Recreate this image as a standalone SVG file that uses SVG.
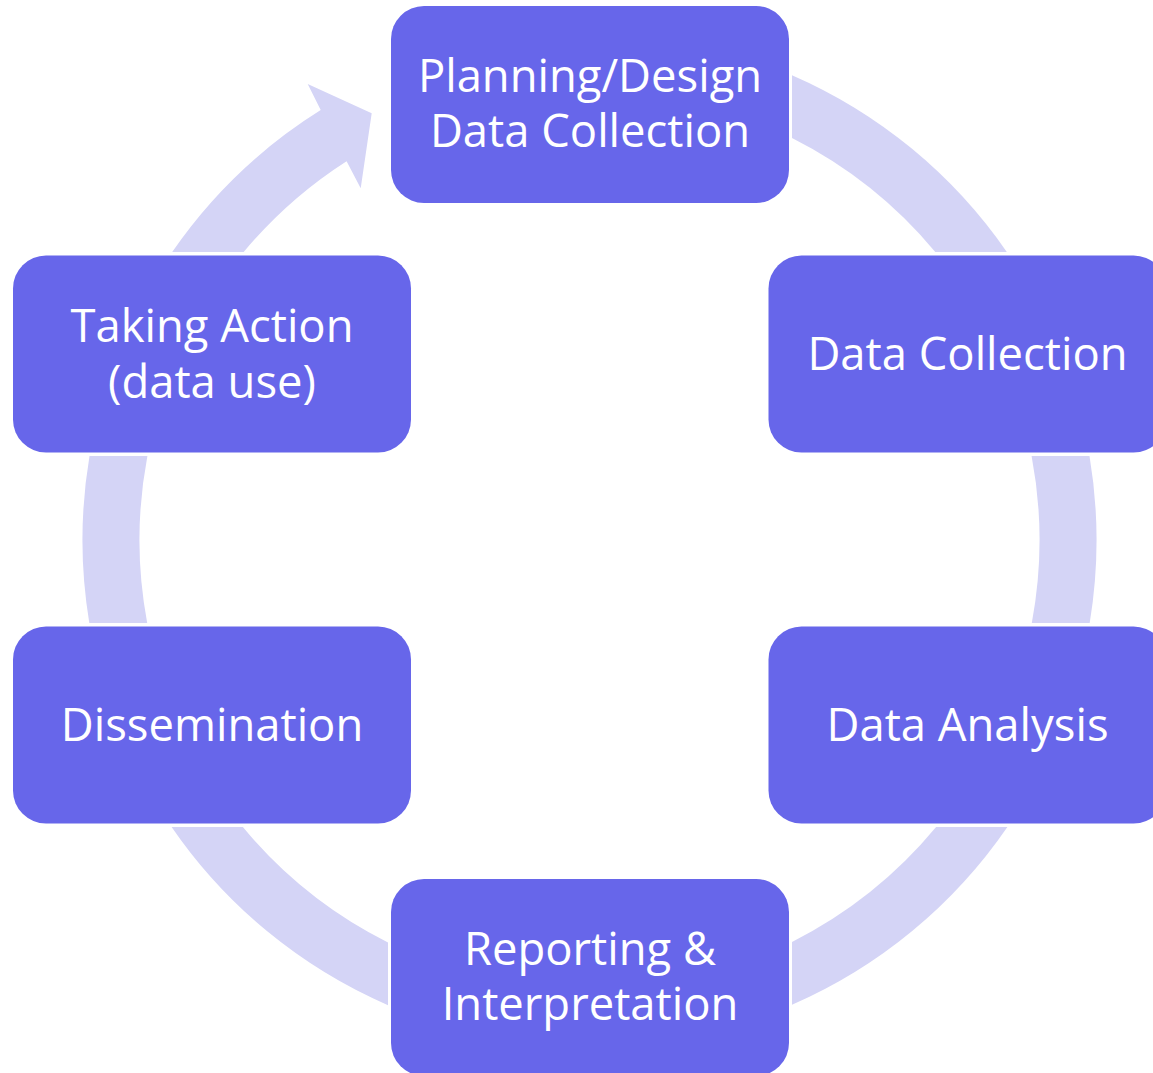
<svg xmlns="http://www.w3.org/2000/svg" width="1153" height="1073" viewBox="0 0 1153 1073">
<style>
.arc{fill:#D4D4F6;}
.box{fill:#6766EA;}
.lbl{fill:#FFFFFF;font-family:"Open Sans","Noto Sans","DejaVu Sans",sans-serif;font-size:45.4px;text-anchor:middle;}
</style>
<rect width="1153" height="1073" fill="#FFFFFF"/>
<g id="connectors">
<path class="arc" d="M 792 75.2 A 507 507 0 0 1 1006.8 252 L 935.3 252 A 450 450 0 0 0 792 138.1 Z"/>
<path class="arc" d="M 1089.5 456 A 507 507 0 0 1 1089.7 623 L 1031.8 623 A 450 450 0 0 0 1031.6 456 Z"/>
<path class="arc" d="M 1007.4 827 A 507 507 0 0 1 792 1004.8 L 792 941.9 A 450 450 0 0 0 936.1 827 Z"/>
<path class="arc" d="M 388 1005.2 A 507 507 0 0 1 171.6 827 L 242.9 827 A 450 450 0 0 0 388 942.4 Z"/>
<path class="arc" d="M 89.3 623 A 507 507 0 0 1 89.5 456 L 147.4 456 A 450 450 0 0 0 147.2 623 Z"/>
<path class="arc" d="M 172.2 252 A 507 507 0 0 1 320.7 110.1 L 307.7 84 L 371.7 113.3 L 360.7 188.3 L 346.6 161.2 A 450 450 0 0 0 243.7 252 Z"/>
</g>
<g id="node-planning">
<rect class="box" x="391" y="6" width="398" height="197" rx="33"/>
<text class="lbl" x="590" y="92">Planning/Design</text>
<text class="lbl" x="590" y="147">Data Collection</text>
</g>
<g id="node-collection">
<rect class="box" x="768.5" y="255.5" width="398" height="197" rx="33"/>
<text class="lbl" x="967.5" y="369.5">Data Collection</text>
</g>
<g id="node-analysis">
<rect class="box" x="768.5" y="626.5" width="398" height="197" rx="33"/>
<text class="lbl" x="967.5" y="740.5">Data Analysis</text>
</g>
<g id="node-reporting">
<rect class="box" x="391" y="879" width="398" height="197" rx="33"/>
<text class="lbl" x="590" y="964.5">Reporting &amp;</text>
<text class="lbl" x="590" y="1020">Interpretation</text>
</g>
<g id="node-dissemination">
<rect class="box" x="13" y="626.5" width="398" height="197" rx="33"/>
<text class="lbl" x="212" y="740.5">Dissemination</text>
</g>
<g id="node-action">
<rect class="box" x="13" y="255.5" width="398" height="197" rx="33"/>
<text class="lbl" x="212" y="342">Taking Action</text>
<text class="lbl" x="212" y="397.5">(data use)</text>
</g>
</svg>
